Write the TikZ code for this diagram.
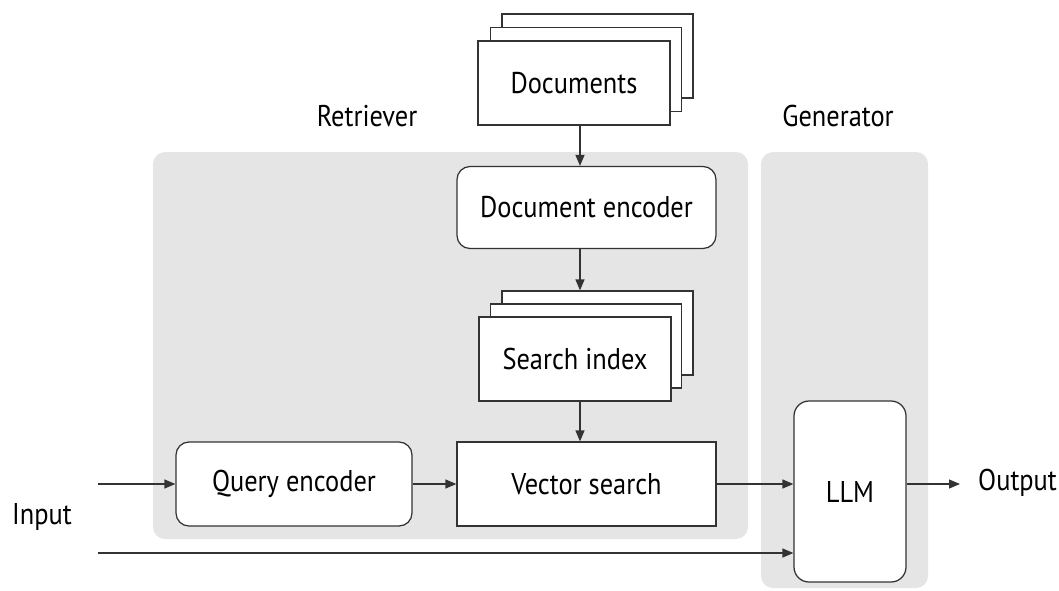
\documentclass[tikz,border=0pt]{standalone}
\usepackage{fontspec}
\setmainfont{PT Sans}[FakeStretch=0.88]
\usetikzlibrary{arrows.meta,calc}
\definecolor{ink}{HTML}{333333}
\definecolor{panel}{HTML}{E5E5E5}
\tikzset{
  txt/.style={font=\fontsize{30}{34}\selectfont},
  box/.style={draw=ink, line width=1.25pt, fill=white, inner sep=0pt, txt},
  roundbox/.style={box, rounded corners=13pt},
  panelbox/.style={fill=panel, rounded corners=12pt},
  flow/.style={draw=ink, line width=1.25pt, -{Triangle[length=11pt,width=9pt]}},
  lbl/.style={txt, inner sep=0pt}
}
\begin{document}
\begin{tikzpicture}[x=1pt,y=-1pt]
\useasboundingbox (0,0) rectangle (1059,590);

% background panels
\fill[panelbox] (153,152) rectangle (748,539);
\fill[panelbox] (761,152) rectangle (928,588);
\node[lbl] (retr) at (367,116) {Retriever};
\node[lbl] (gen) at (838,116) {Generator};

% document stack
\node[box, minimum width=191pt, minimum height=84pt] (docs3) at (597.5,56) {};
\node[box, minimum width=191pt, minimum height=84pt] (docs2) at (586,69.5) {};
\node[box, minimum width=192pt, minimum height=84pt] (docs) at (574,83) {Documents};

\node[roundbox, minimum width=259pt, minimum height=82pt] (enc) at (586.5,207.5) {Document encoder};

% search index stack
\node[box, minimum width=191pt, minimum height=84pt] (idx3) at (597.5,333) {};
\node[box, minimum width=191pt, minimum height=84pt] (idx2) at (586,346) {};
\node[box, minimum width=192pt, minimum height=84pt] (idx) at (575,359) {Search index};

\node[box, minimum width=259pt, minimum height=84pt] (vec) at (586.5,484) {Vector search};
\node[roundbox, minimum width=236pt, minimum height=84pt] (qenc) at (294,484) {Query encoder};
\node[roundbox, minimum width=112pt, minimum height=181pt, rounded corners=15pt] (llm) at (850,491.5) {LLM};

\node[lbl, anchor=west] (out) at (978,483) {Output};
\node[lbl, anchor=west] (inp) at (12,517) {Input};

% connector anchors
\coordinate (col) at (580,0);
\coordinate (in1) at (98,484);
\coordinate (in2) at (98,553);
\coordinate (outend) at (960,484);

% connectors
\draw[flow] (docs.south -| col) -- (enc.north -| col);
\draw[flow] (enc.south -| col) -- (idx3.north -| col);
\draw[flow] (idx.south -| col) -- (vec.north -| col);
\draw[flow] (in1) -- (qenc.west);
\draw[flow] (qenc.east) -- (vec.west);
\draw[flow] (vec.east) -- (vec.east -| llm.west);
\draw[flow] (in2) -- (in2 -| llm.west);
\draw[flow] (llm.east |- outend) -- (outend);
\end{tikzpicture}
\end{document}
